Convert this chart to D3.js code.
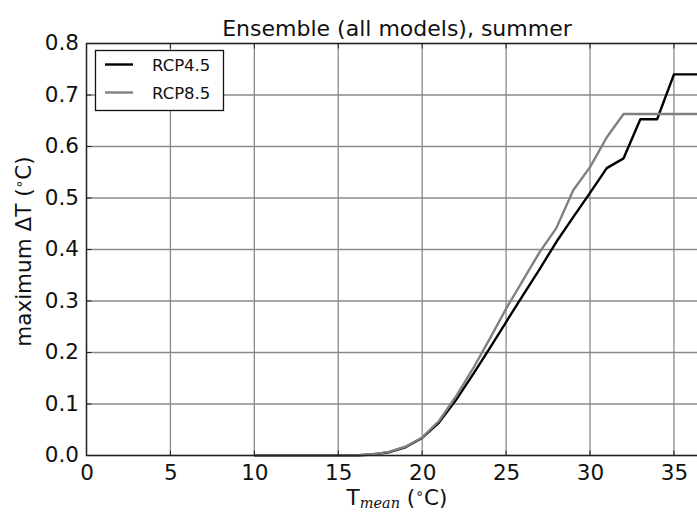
<!DOCTYPE html>
<html>
<head>
<meta charset="utf-8">
<script src="https://cdn.jsdelivr.net/npm/d3@7/dist/d3.min.js"></script>
<style>
  html, body { margin: 0; padding: 0; background: #fff; }
  svg { display: block; }
  text { font-family: "DejaVu Sans", sans-serif; }
</style>
</head>
<body>
<svg id="chart" width="697" height="513"></svg>
<script>
const title = "Ensemble (all models), summer";
const xTicks = [0, 5, 10, 15, 20, 25, 30, 35];
const yTicks = [0.0, 0.1, 0.2, 0.3, 0.4, 0.5, 0.6, 0.7, 0.8];
const tmean = [10, 11, 12, 13, 14, 15, 16, 17, 18, 19, 20, 21, 22, 23, 24, 25, 26, 27, 28, 29, 30, 31, 32, 33, 34, 35, 36, 37];
const rcp45 = [0, 0, 0, 0, 0, 0, 0, 0.002, 0.006, 0.016, 0.034, 0.064, 0.107, 0.156, 0.207, 0.259, 0.311, 0.362, 0.415, 0.463, 0.51, 0.558, 0.577, 0.653, 0.653, 0.74, 0.74, 0.74];
const rcp85 = [0, 0, 0, 0, 0, 0, 0, 0.002, 0.007, 0.017, 0.035, 0.067, 0.114, 0.167, 0.225, 0.285, 0.34, 0.395, 0.442, 0.515, 0.56, 0.618, 0.663, 0.663, 0.663, 0.663, 0.663, 0.663];
const seriesNames = ["RCP4.5", "RCP8.5"];
const seriesColors = ["#000000", "#808080"];

(function () {
const svg = d3.select("#chart");
const mL = 86.5, mR = 707.5, mT = 43.5, mB = 455.5;
const x = d3.scaleLinear().domain([0, 37]).range([mL, mR]);
const y = d3.scaleLinear().domain([0, 0.8]).range([mB, mT]);

// grid
const grid = svg.append("g");
grid.selectAll("line.v").data(xTicks).enter().append("line")
  .attr("x1", d => x(d)).attr("x2", d => x(d)).attr("y1", mT).attr("y2", mB)
  .attr("stroke", "#8a8a8a").attr("stroke-width", 1.3);
grid.selectAll("line.h").data(yTicks).enter().append("line")
  .attr("x1", mL).attr("x2", mR).attr("y1", d => y(d)).attr("y2", d => y(d))
  .attr("stroke", "#8a8a8a").attr("stroke-width", 1.3);

// lines
const line = d3.line().x((d, i) => x(tmean[i])).y(d => y(d));
[rcp45, rcp85].forEach((s, k) => {
  svg.append("path").datum(s).attr("d", line)
    .attr("fill", "none").attr("stroke", seriesColors[k]).attr("stroke-width", 2.4)
    .attr("stroke-linejoin", "round");
});

// frame
svg.append("rect").attr("x", mL).attr("y", mT).attr("width", mR - mL).attr("height", mB - mT)
  .attr("fill", "none").attr("stroke", "#222").attr("stroke-width", 1.4);

// axes
const xAxis = d3.axisBottom(x).tickValues(xTicks).tickSize(0).tickPadding(9).tickFormat(d3.format("d"));
const gx = svg.append("g").attr("transform", `translate(0,${mB})`).call(xAxis);
gx.select(".domain").remove();
gx.selectAll("text").attr("font-size", 21.5).attr("fill", "#111").attr("font-family", "DejaVu Sans");

const yAxis = d3.axisLeft(y).tickValues(yTicks).tickSize(0).tickPadding(7.5).tickFormat(d3.format(".1f"));
const gy = svg.append("g").attr("transform", `translate(${mL},0)`).call(yAxis);
gy.select(".domain").remove();
gy.selectAll("text").attr("font-size", 21.5).attr("fill", "#111").attr("font-family", "DejaVu Sans")
  .attr("dy", "0.28em");

// inner ticks
svg.append("g").selectAll("line").data(xTicks).enter().append("line")
  .attr("x1", d => x(d)).attr("x2", d => x(d)).attr("y1", mB).attr("y2", mB - 5)
  .attr("stroke", "#222");
svg.append("g").selectAll("line").data(xTicks).enter().append("line")
  .attr("x1", d => x(d)).attr("x2", d => x(d)).attr("y1", mT).attr("y2", mT + 5)
  .attr("stroke", "#222");
svg.append("g").selectAll("line").data(yTicks).enter().append("line")
  .attr("x1", mL).attr("x2", mL + 5).attr("y1", d => y(d)).attr("y2", d => y(d))
  .attr("stroke", "#222");

// title
svg.append("text").attr("x", 397).attr("y", 36).attr("text-anchor", "middle")
  .attr("font-size", 22).attr("fill", "#111").text(title);

// x label
const xl = svg.append("text").attr("x", 397).attr("y", 505).attr("text-anchor", "middle")
  .attr("font-size", 21.5).attr("fill", "#111");
xl.append("tspan").text("T");
xl.append("tspan").attr("font-family", "DejaVu Serif").attr("font-style", "italic").attr("font-size", 14.5)
  .attr("dy", 2.5).text("mean");
xl.append("tspan").attr("dy", -2.5).text(" (");
xl.append("tspan").attr("font-size", 14).attr("dy", -7).text("∘");
xl.append("tspan").attr("dy", 7).text("C)");

// y label
const yl = svg.append("text").attr("transform", `translate(31,${(mT + mB) / 2 + 2}) rotate(-90)`)
  .attr("text-anchor", "middle").attr("font-size", 21.5).attr("fill", "#111");
yl.append("tspan").text("maximum ΔT (");
yl.append("tspan").attr("font-size", 14).attr("dy", -7).text("∘");
yl.append("tspan").attr("dy", 7).text("C)");

// legend
const lg = svg.append("g");
lg.append("rect").attr("x", 95.5).attr("y", 50.5).attr("width", 128).attr("height", 60)
  .attr("fill", "#fff").attr("stroke", "#111").attr("stroke-width", 1.3);
seriesNames.forEach((n, i) => {
  const yy = 64.5 + i * 28;
  lg.append("line").attr("x1", 105).attr("x2", 133).attr("y1", yy).attr("y2", yy)
    .attr("stroke", seriesColors[i]).attr("stroke-width", 2.4);
  lg.append("text").attr("x", 152).attr("y", yy + 6).attr("font-size", 16.5).attr("fill", "#111").text(n);
});
})();
</script>
</body>
</html>
